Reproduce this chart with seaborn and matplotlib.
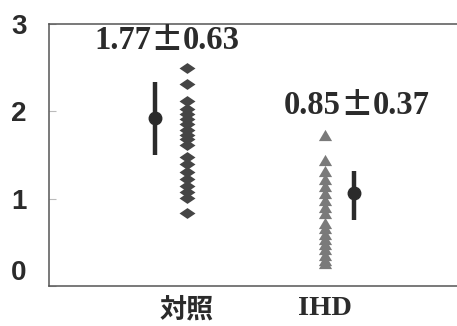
import numpy as np
import pandas as pd
import matplotlib
matplotlib.use("Agg")
import matplotlib.pyplot as plt
import seaborn as sns

# Individual measurements per group
categories = ["対照", "IHD"]
control_values = [2.50, 2.31, 2.12, 2.03, 1.97, 1.91, 1.85, 1.79, 1.73, 1.68,
                  1.62, 1.48, 1.40, 1.30, 1.22, 1.15, 1.08, 1.01, 0.84]
ihd_values = [1.73, 1.44, 1.32, 1.22, 1.14, 1.06, 0.98, 0.90, 0.84, 0.72,
              0.66, 0.60, 0.54, 0.48, 0.42, 0.36, 0.30, 0.26]

# Summary points with error bars (centre, lower, upper)
summary_center = [1.92, 1.07]
summary_low = [1.50, 0.76]
summary_high = [2.34, 1.32]

# Mean and SD annotation above each group
stat_means = ["1.77", "0.85"]
stat_sds = ["0.63", "0.37"]
stat_label_x = [-0.145, 1.232]
stat_label_y = [2.81, 2.07]

y_ticks = [0, 1, 2, 3]

sns.set_theme(style="white")
plt.rcParams["font.family"] = ["Liberation Sans", "DejaVu Sans"]

fig = plt.figure(figsize=(4.57, 3.26), dpi=100)
ax = fig.add_axes([49 / 457, 40 / 326, 1 - 49 / 457, 262 / 326])

df_ctrl = pd.DataFrame({"group": categories[0], "value": control_values})
df_ihd = pd.DataFrame({"group": categories[1], "value": ihd_values})

diamond = [(-1.0, 0.0), (0.0, 0.68), (1.0, 0.0), (0.0, -0.68), (-1.0, 0.0)]
triangle = [(0.0, 0.85), (-1.0, -0.85), (1.0, -0.85), (0.0, 0.85)]

sns.stripplot(data=df_ctrl, x="group", y="value", order=categories,
              jitter=False, marker=diamond, s=11.5, color="#454545",
              linewidth=0, ax=ax)
sns.stripplot(data=df_ihd, x="group", y="value", order=categories,
              jitter=False, marker=triangle, s=9.5, color="#7a7a7a",
              linewidth=0, ax=ax)

# Summary points are drawn beside each column of raw values
offsets = [-0.23, 0.21]
for i in range(len(categories)):
    c = summary_center[i]
    ax.errorbar(i + offsets[i], c,
                yerr=[[c - summary_low[i]], [summary_high[i] - c]],
                fmt="o", color="#2b2b2b", ms=9, elinewidth=3.2, capsize=0)

# "mean ± SD" built from three pieces so the ± sign can be wide
txt_kw = dict(fontweight="bold", color="#2b2b2b",
              textcoords="offset points", va="center")
for i in range(len(stat_means)):
    xy = (stat_label_x[i], stat_label_y[i])
    ax.annotate(stat_means[i], xy, xytext=(-11.5, 0), ha="right",
                fontsize=23.5, family="Liberation Serif", **txt_kw)
    ax.annotate("\u00b1", xy, xytext=(0, 0), ha="center",
                fontsize=23.5, family=["Noto Sans CJK JP", "DejaVu Sans"],
                **txt_kw)
    ax.annotate(stat_sds[i], xy, xytext=(11.5, 0), ha="left",
                fontsize=23.5, family="Liberation Serif", **txt_kw)

ax.set_xlim(-1.0, 1.957)
ax.set_ylim(0, 3)
ax.set_yticks(y_ticks)
ax.set_yticklabels([str(t) for t in y_ticks])
ax.set_xlabel("")
ax.set_ylabel("")

for lab in ax.get_yticklabels():
    lab.set_fontsize(20)
    lab.set_fontweight("bold")
    lab.set_color("#2b2b2b")
ax.get_yticklabels()[0].set_verticalalignment("bottom")

xl = ax.get_xticklabels()
xl[0].set_family(["Noto Sans CJK JP", "DejaVu Sans"])
xl[0].set_fontsize(19.5)
xl[1].set_family(["Liberation Serif", "DejaVu Serif"])
xl[1].set_fontsize(20.5)
for lab in xl:
    lab.set_fontweight("bold")
    lab.set_color("#2b2b2b")

ax.tick_params(axis="y", direction="in", length=5, width=0.8,
               color="#bbbbbb", pad=16, left=True)
ax.tick_params(axis="x", length=0, pad=7)

for side in ["left", "top", "bottom"]:
    ax.spines[side].set_color("#555555")
    ax.spines[side].set_linewidth(1.1)
ax.spines["right"].set_visible(False)

fig.savefig("out.png", dpi=100, facecolor="white")
